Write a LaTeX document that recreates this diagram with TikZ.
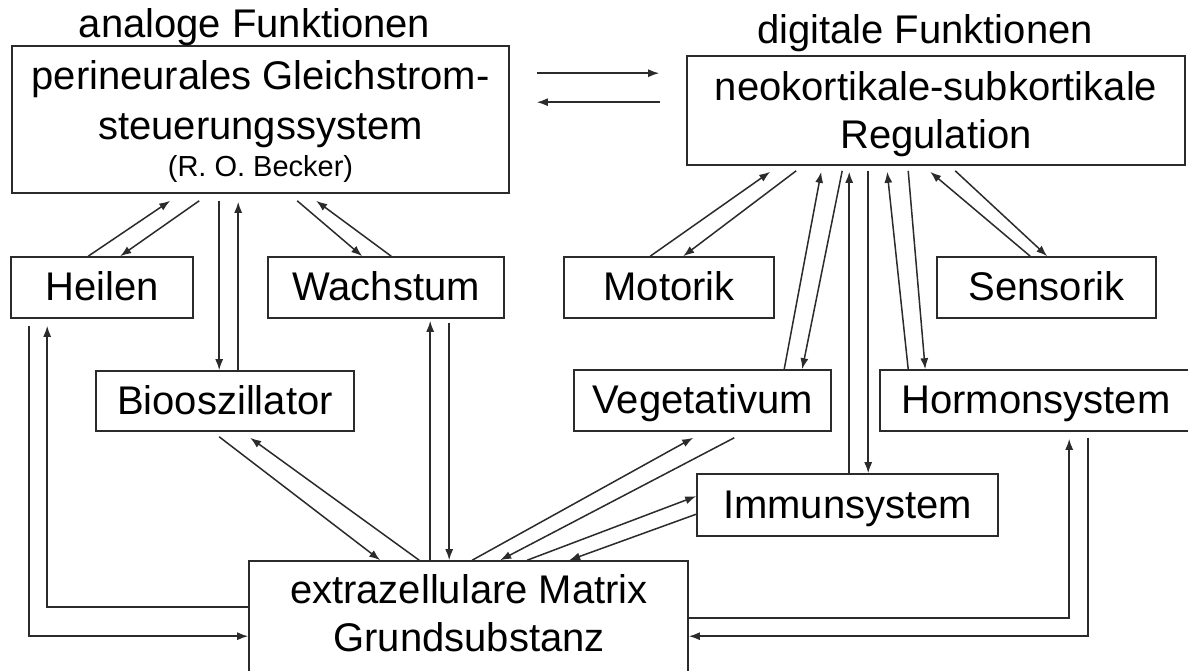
\documentclass[tikz,border=0pt]{standalone}
\usepackage{fontspec}
\setmainfont{Liberation Sans}
\usetikzlibrary{arrows.meta}
\definecolor{linecol}{HTML}{2B2B2B}
\begin{document}
\begin{tikzpicture}[x=1pt,y=-1pt,
  boxnode/.style={draw=linecol, line width=1.6pt, inner sep=0pt, font=\fontsize{40}{48}\selectfont, text height=26pt, text depth=0pt},
  lbl/.style={inner sep=0pt, anchor=base, font=\fontsize{40}{48}\selectfont},
  conn/.style={draw=linecol, line width=1.5pt, -{Latex[length=11pt,width=8pt]}}]
\useasboundingbox (0,0) rectangle (1188,670);
\fill[white] (0,0) rectangle (1188,670);

% top boxes
\node[boxnode, minimum width=497pt, minimum height=147pt] (ana) at (260.5,119.5) {};
\node[lbl] (anaT1) at (260.5,89) {perineurales Gleichstrom-};
\node[lbl] (anaT2) at (260.5,139) {steuerungssystem};
\node[lbl, font=\fontsize{29}{34}\selectfont] (anaT3) at (260.5,176) {(R. O. Becker)};
\node[lbl] (anaH) at (254.5,37) {analoge Funktionen};

\node[boxnode, minimum width=498pt, minimum height=109pt] (reg) at (936,110.5) {};
\node[lbl] (regT1) at (936,100) {neokortikale-subkortikale};
\node[lbl] (regT2) at (936,148) {Regulation};
\node[lbl] (regH) at (925,43) {digitale Funktionen};

% second row
\node[boxnode, minimum width=182pt, minimum height=61pt] (heilen) at (102,287.5) {Heilen};
\node[boxnode, minimum width=236pt, minimum height=61pt] (wachs) at (386,287.5) {Wachstum};
\node[boxnode, minimum width=210pt, minimum height=61pt] (motorik) at (669,287.5) {Motorik};
\node[boxnode, minimum width=219pt, minimum height=61pt] (sensorik) at (1046.5,287.5) {Sensorik};

% third row
\node[boxnode, minimum width=258pt, minimum height=60pt] (bio) at (225,401) {Biooszillator};
\node[boxnode, minimum width=257pt, minimum height=61pt] (veg) at (702.5,400.5) {Vegetativum};
\node[boxnode, minimum width=312pt, minimum height=61pt] (hormon) at (1036,400.5) {Hormonsystem};

\node[boxnode, minimum width=301pt, minimum height=62pt] (immun) at (847.5,505) {Immunsystem};

% matrix
\node[boxnode, minimum width=439pt, minimum height=119pt] (matrix) at (468.5,620.5) {};
\node[lbl] (matT1) at (469,603) {extrazellulare Matrix};
\node[lbl] (matT2) at (469,651) {Grundsubstanz};

% between top boxes
\draw[conn] ([xshift=27pt,yshift=-28pt]ana.north east) -- ([xshift=-27pt,yshift=-18pt]reg.north west);
\draw[conn] ([xshift=-26pt,yshift=-47pt]reg.north west) -- ([xshift=27pt,yshift=-57pt]ana.north east);

% ana <-> heilen
\draw[conn] ([xshift=78pt]heilen.north west) -- ([xshift=159pt,yshift=-7pt]ana.south west);
\draw[conn] ([xshift=188pt,yshift=-7pt]ana.south west) -- ([xshift=110pt]heilen.north west);
% ana <-> bio
\draw[conn] ([xshift=208pt,yshift=-7pt]ana.south west) -- ([xshift=124pt]bio.north west);
\draw[conn] ([xshift=143pt]bio.north west) -- ([xshift=227pt,yshift=-8pt]ana.south west);
% ana <-> wachs
\draw[conn] ([xshift=286pt,yshift=-7pt]ana.south west) -- ([xshift=95pt]wachs.north west);
\draw[conn] ([xshift=124pt]wachs.north west) -- ([xshift=305pt,yshift=-7pt]ana.south west);

% heilen <-> matrix
\draw[conn] ([xshift=19pt,yshift=-7pt]heilen.south west) |- ([yshift=-76pt]matrix.north west);
\draw[conn] ([yshift=-47pt]matrix.north west) -| ([xshift=37pt,yshift=-7pt]heilen.south west);
% wachs <-> matrix
\draw[conn] ([xshift=182pt]matrix.north west) -- ([xshift=163pt,yshift=-2pt]wachs.south west);
\draw[conn] ([xshift=182pt,yshift=-4pt]wachs.south west) -- ([xshift=201pt]matrix.north west);
% bio <-> matrix
\draw[conn] ([xshift=124pt,yshift=-5pt]bio.south west) -- ([xshift=132pt]matrix.north west);
\draw[conn] ([xshift=171pt]matrix.north west) -- ([xshift=155pt,yshift=-6pt]bio.south west);
% veg <-> matrix
\draw[conn] ([xshift=224pt]matrix.north west) -- ([xshift=120pt,yshift=-6pt]veg.south west);
\draw[conn] ([xshift=161pt,yshift=-6pt]veg.south west) -- ([xshift=252pt]matrix.north west);
% immun <-> matrix
\draw[conn] ([xshift=279pt]matrix.north west) -- ([yshift=-23pt]immun.north west);
\draw[conn] ([yshift=-41pt]immun.north west) -- ([xshift=321pt]matrix.north west);
% hormon <-> matrix
\draw[conn] ([yshift=-58pt]matrix.north east) -| ([xshift=190pt,yshift=-7pt]hormon.south west);
\draw[conn] ([xshift=209pt,yshift=-6pt]hormon.south west) |- ([yshift=-76pt]matrix.north east);

% regulation connectors
\draw[conn] ([xshift=87pt]motorik.north west) -- ([xshift=84pt,yshift=-6pt]reg.south west);
\draw[conn] ([xshift=110pt,yshift=-5pt]reg.south west) -- ([xshift=120pt]motorik.north west);
\draw[conn] ([xshift=211pt]veg.north west) -- ([xshift=135pt,yshift=-6pt]reg.south west);
\draw[conn] ([xshift=156pt,yshift=-5pt]reg.south west) -- ([xshift=229pt]veg.north west);
\draw[conn] ([xshift=153pt]immun.north west) -- ([xshift=163pt,yshift=-6pt]reg.south west);
\draw[conn] ([xshift=182pt,yshift=-5pt]reg.south west) -- ([xshift=172pt]immun.north west);
\draw[conn] ([xshift=29pt]hormon.north west) -- ([xshift=201pt,yshift=-6pt]reg.south west);
\draw[conn] ([xshift=222pt,yshift=-5pt]reg.south west) -- ([xshift=46pt]hormon.north west);
\draw[conn] ([xshift=94pt]sensorik.north west) -- ([xshift=244pt,yshift=-6pt]reg.south west);
\draw[conn] ([xshift=269pt,yshift=-5pt]reg.south west) -- ([xshift=111pt]sensorik.north west);
\end{tikzpicture}
\end{document}
